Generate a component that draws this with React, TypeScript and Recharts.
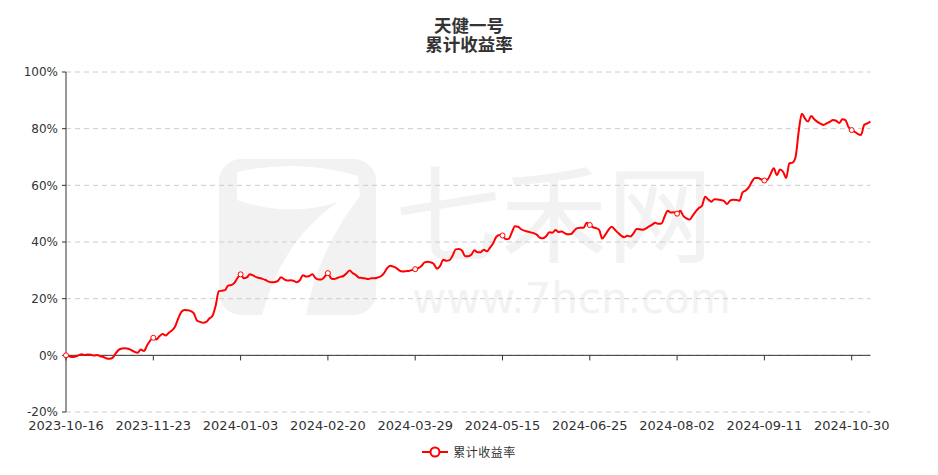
import { LineChart, Line, XAxis, YAxis, CartesianGrid, ReferenceLine } from 'recharts'

// one value per trading day, cumulative return in %
const returns = [
  0, -0.3, -0.6, -0.4, 0, 0.4, 0.1, 0.3, 0.2, -0.1, 0.1, -0.3, -0.6, -1.1,
  -1.2, -0.8, 0.8, 2.0, 2.4, 2.5, 2.3, 1.8, 1.2, 0.9, 2.1, 1.5, 3.5, 5.2,
  6.2, 5.6, 6.8, 7.5, 7.0, 8.0, 8.8, 10.2, 13.0, 15.3, 16.0, 15.9, 15.6, 14.8,
  12.3, 11.8, 11.5, 11.8, 13.0, 14.0, 17.5, 22.6, 22.8, 23.0, 24.6, 24.8, 25.6, 27.3,
  28.6, 27.2, 27.5, 28.6, 28.2, 27.6, 27.3, 27.0, 26.6, 26.0, 25.8, 25.9, 26.3, 27.6,
  26.8, 26.4, 26.5, 26.3, 25.8, 26.5, 28.3, 27.8, 28.0, 28.6, 27.3, 26.8, 26.8, 27.8,
  29.0, 27.2, 26.9, 27.3, 27.7, 28.0, 29.0, 29.9, 29.0, 28.3, 27.4, 27.3, 27.1, 26.9,
  27.2, 27.2, 27.5, 27.9, 29.0, 30.8, 31.6, 31.3, 30.8, 29.9, 29.6, 29.7, 29.8, 30.1,
  30.4, 30.8, 31.5, 32.8, 33.0, 32.8, 32.2, 30.6, 31.6, 33.7, 33.4, 33.6, 35.2, 37.4,
  37.5, 37.0, 35.0, 35.0, 35.5, 37.1, 36.4, 36.4, 37.3, 36.7, 38.0, 39.6, 41.8, 42.5,
  42.3, 41.0, 41.1, 43.4, 45.6, 45.4, 44.5, 44.0, 43.7, 43.4, 43.1, 42.6, 41.5, 41.3,
  42.0, 43.4, 43.3, 44.2, 43.5, 43.7, 43.1, 42.7, 42.8, 44.0, 44.9, 45.0, 45.0, 46.8,
  46.0, 45.2, 44.9, 44.3, 41.2, 42.6, 44.3, 45.4, 44.4, 43.3, 42.3, 41.7, 42.2, 41.9,
  43.0, 44.6, 44.5, 44.3, 44.8, 45.5, 46.1, 46.8, 46.4, 46.5, 49.0, 51.0, 50.4, 50.5,
  50.0, 51.0, 49.2, 48.3, 47.9, 49.3, 50.8, 52.0, 52.8, 56.0, 55.0, 54.2, 55.1, 55.0,
  54.8, 54.5, 53.4, 54.6, 54.9, 54.8, 54.6, 57.5, 58.2, 59.3, 61.3, 62.6, 62.6, 62.1,
  61.7, 62.0, 64.0, 66.0, 63.6, 65.6, 64.8, 62.6, 67.8, 68.0, 70.0, 79.0, 85.3, 83.6,
  82.5, 84.5, 83.3, 82.4, 81.8, 81.3, 81.9, 82.4, 83.1, 82.8, 82.0, 83.3, 83.0, 80.5,
  79.5, 78.9, 78.1, 77.8, 81.3, 81.9, 82.5,
]

// a label every 28 trading days
const tickLabels = [
  '2023-10-16', '2023-11-23', '2024-01-03', '2024-02-20', '2024-03-29',
  '2024-05-15', '2024-06-25', '2024-08-02', '2024-09-11', '2024-10-30',
]
const labelStep = 28
const yTicks = [-20, 0, 20, 40, 60, 80, 100]

const RED = '#ff0000'
const AXIS = '#333'
const FONT = '"DejaVu Sans", "Noto Sans CJK SC", sans-serif'

const data = returns.map((v, i) => ({ i, v }))
const xTicks = tickLabels.map((_, k) => k * labelStep)

const renderDot = (props: any) => {
  const { cx, cy, index } = props
  if (index % labelStep !== 0) return <g key={`d${index}`} />
  return <circle key={`d${index}`} cx={cx} cy={cy} r={2.5} fill="#fff" stroke={RED} strokeWidth={1} />
}

function Watermark() {
  return (
    <svg width={938} height={475} style={{ position: 'absolute', left: 0, top: 0 }}>
      <rect x={219} y={159} width={157} height={156} rx={22} fill="#f2f2f2" />
      <path
        d="M237,172 Q300,158 358,176 L360,196 Q318,250 306,315 L262,315 Q282,240 338,202 Q288,218 237,200 Z"
        fill="#fff"
      />
      <text x={395} y={254} fontSize={106} fill="#f2f2f2" fontFamily='"Noto Sans CJK SC", sans-serif'>
        七禾网
      </text>
      <text x={412} y={313} fontSize={42} fill="#f2f2f2" fontFamily={FONT}>
        www.7hcn.com
      </text>
    </svg>
  )
}

export default function App() {
  return (
    <div style={{ position: 'relative', width: 938, height: 475, background: '#fff', fontFamily: FONT }}>
      <style>{'body{margin:0}'}</style>
      <Watermark />
      <div
        style={{
          position: 'absolute', top: 15, left: 0, width: 938, textAlign: 'center',
          fontSize: 17.5, lineHeight: '19px', fontWeight: 700, color: '#333',
          fontFamily: '"Noto Sans CJK SC", sans-serif', zIndex: 2,
        }}
      >
        <div>天健一号</div>
        <div>累计收益率</div>
      </div>
      <div style={{ position: 'absolute', left: 0, top: 0 }}>
        <LineChart width={938} height={475} data={data} margin={{ top: 72, right: 67.6, left: 0, bottom: 33 }}>
          <CartesianGrid vertical={false} stroke="#ccc" strokeDasharray="5 4" />
          <XAxis
            type="number"
            dataKey="i"
            domain={[0, returns.length - 1]}
            ticks={xTicks}
            interval={0}
            tickFormatter={(i: number) => tickLabels[i / labelStep]}
            axisLine={false}
            tickLine={false}
            height={30}
            tickMargin={3}
            tick={{ fontSize: 13, fill: AXIS, fontFamily: FONT }}
          />
          <YAxis
            domain={[-20, 100]}
            ticks={yTicks}
            interval={0}
            tickFormatter={(v: number) => `${v}%`}
            width={66}
            axisLine={{ stroke: AXIS }}
            tickLine={{ stroke: AXIS }}
            tickSize={4}
            tickMargin={4}
            tick={{ fontSize: 12, fill: AXIS, fontFamily: FONT }}
          />
          <ReferenceLine y={0} stroke={AXIS} />
          {xTicks.map((t) => (
            <ReferenceLine key={t} segment={[{ x: t, y: 0 }, { x: t, y: -1.8 }]} stroke={AXIS} />
          ))}
          <Line
            type="monotone"
            dataKey="v"
            stroke={RED}
            strokeWidth={2}
            dot={renderDot}
            activeDot={false}
            isAnimationActive={false}
          />
        </LineChart>
      </div>
      <div
        style={{
          position: 'absolute', top: 443, left: 0, width: 938, display: 'flex',
          justifyContent: 'center', alignItems: 'center', gap: 5,
          fontSize: 12, color: '#333', fontFamily: '"Noto Sans CJK SC", sans-serif',
        }}
      >
        <svg width={26} height={16}>
          <line x1={0} y1={8} x2={26} y2={8} stroke={RED} strokeWidth={2} />
          <circle cx={13} cy={8} r={4.5} fill="#fff" stroke={RED} strokeWidth={2} />
        </svg>
        <span style={{ letterSpacing: 0.5 }}>累计收益率</span>
      </div>
    </div>
  )
}
